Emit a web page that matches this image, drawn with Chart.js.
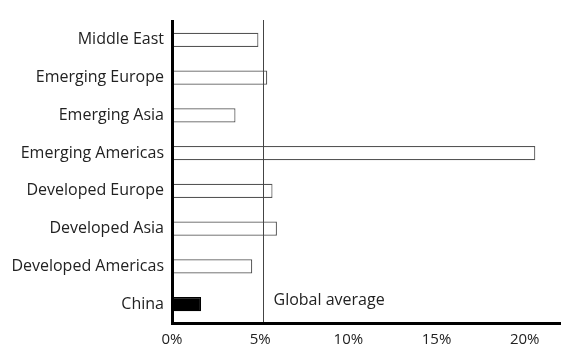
<!DOCTYPE html>
<html><head><meta charset="utf-8">
<script src="https://cdn.jsdelivr.net/npm/chart.js@4"></script>
<style>html,body{margin:0;padding:0;background:#fff}#wrap{width:570px;height:349px}</style>
</head><body><div id="wrap"><canvas id="c"></canvas></div>
<script>
const categories = ["Middle East","Emerging Europe","Emerging Asia","Emerging Americas","Developed Europe","Developed Asia","Developed Americas","China"];
const values = [4.9, 5.4, 3.6, 20.6, 5.7, 5.95, 4.55, 1.65];
const globalAverage = 5.15;
const globalLabel = "Global average";
const xTicks = [0, 5, 10, 15, 20];

const fillColors = categories.map(c => c === "China" ? "#000" : "#fff");
const borderColors = categories.map(c => c === "China" ? "#000" : "#555");
const FONT = "'Open Sans', 'DejaVu Sans', sans-serif";

const avgPlugin = {
  id: 'avg',
  afterDatasetsDraw(chart) {
    const {ctx, chartArea, scales} = chart;
    const x = Math.round(scales.x.getPixelForValue(globalAverage)) + 0.5;
    ctx.save();
    ctx.strokeStyle = '#444';
    ctx.lineWidth = 1;
    ctx.beginPath();
    ctx.moveTo(x, chartArea.top - 1);
    ctx.lineTo(x, chartArea.bottom);
    ctx.stroke();
    ctx.fillStyle = '#222';
    ctx.font = '16px ' + FONT;
    ctx.textBaseline = 'middle';
    ctx.textAlign = 'left';
    const y = scales.y.getPixelForValue(categories.length - 1) - 4;
    ctx.fillText(globalLabel, x + 10, y);
    ctx.restore();
  }
};

new Chart(document.getElementById('c'), {
  type: 'bar',
  data: {
    labels: categories,
    datasets: [{
      data: values,
      backgroundColor: fillColors,
      borderColor: borderColors,
      borderWidth: 1.2,
      barPercentage: 0.38,
      categoryPercentage: 1
    }]
  },
  options: {
    indexAxis: 'y',
    responsive: true,
    maintainAspectRatio: false,
    animation: false,
    layout: {padding: {top: 21, right: 10, left: 0, bottom: 0}},
    plugins: {legend: {display: false}, tooltip: {enabled: false}},
    scales: {
      x: {
        min: 0, max: 22,
        afterBuildTicks(s) { s.ticks = xTicks.map(v => ({value: v})); },
        afterFit(s) { s.height = 26; },
        grid: {display: false, drawTicks: false},
        border: {display: true, color: '#000', width: 3, z: 1},
        ticks: {color: '#222', padding: 8, font: {family: FONT, size: 15}, callback: v => v + '%'}
      },
      y: {
        afterFit(s) { s.width = 172; },
        grid: {display: false, drawTicks: false},
        border: {display: true, color: '#000', width: 3, z: 1},
        ticks: {color: '#222', padding: 8, font: {family: FONT, size: 16}}
      }
    }
  },
  plugins: [avgPlugin]
});
</script></body></html>
